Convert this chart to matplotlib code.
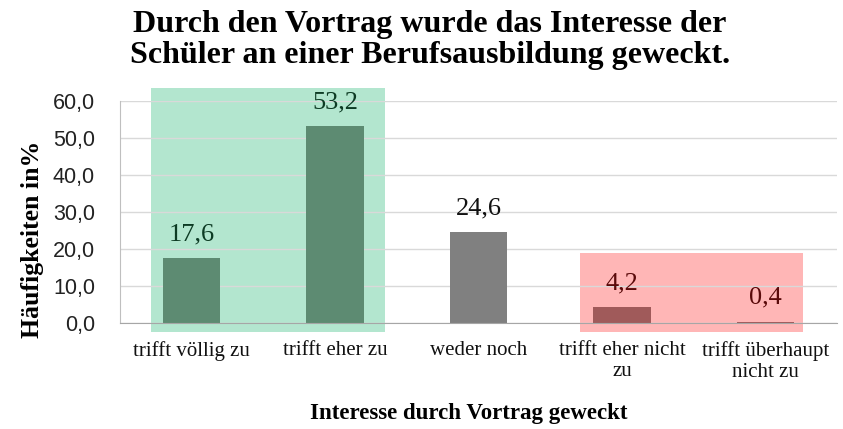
import matplotlib
matplotlib.use("Agg")
import matplotlib.pyplot as plt
from matplotlib.patches import Rectangle

categories = ["trifft völlig zu", "trifft eher zu", "weder noch",
              "trifft eher nicht\nzu", "trifft überhaupt\nnicht zu"]
values = [17.6, 53.2, 24.6, 4.2, 0.4]
value_labels = ["17,6", "53,2", "24,6", "4,2", "0,4"]
yticks = [0, 10, 20, 30, 40, 50, 60]
ytick_labels = ["0,0", "10,0", "20,0", "30,0", "40,0", "50,0", "60,0"]

bar_colors = ["#5d8b72", "#5d8b72", "#808080", "#a05a5a", "#a05a5a"]
label_colors = ["#0d3b24", "#0d3b24", "#111111", "#5a0a0a", "#5a0a0a"]

serif = "Liberation Serif"
sans = "Liberation Sans"

fig = plt.figure(figsize=(8.43, 4.29), dpi=100)
ax = fig.add_axes([120/843, 1-323/429, (837-120)/843, (323-101)/429])

x = list(range(len(categories)))
ax.set_xlim(-0.5, 4.5)
ax.set_ylim(0, 60)

# shaded regions
ax.add_patch(Rectangle((-0.283, -2.4), 1.629, 65.9, facecolor="#b3e6cf",
                       edgecolor="none", zorder=0, clip_on=False))
ax.add_patch(Rectangle((2.71, -2.4), 1.55, 21.3, facecolor="#ffb6b6",
                       edgecolor="none", zorder=0, clip_on=False))

ax.bar(x, values, width=0.4, color=bar_colors, zorder=3)
for xi, v, lab, c in zip(x, values, value_labels, label_colors):
    ax.text(xi, v + 4.8, lab, ha="center", va="baseline", fontsize=19,
            family=serif, color=c, zorder=4)

ax.set_yticks(yticks)
ax.set_yticklabels(ytick_labels, family=sans, fontsize=15.5, color="#222222")
ax.set_xticks(x)
ax.set_xticklabels(categories, family=serif, fontsize=15, color="#111111",
                   linespacing=1.12)
ax.tick_params(axis="both", length=0)
ax.tick_params(axis="y", pad=18)
ax.tick_params(axis="x", pad=13)
ax.yaxis.grid(True, color="#d9d9d9", linewidth=1.0, zorder=1)
ax.set_axisbelow(True)
for s in ["top", "right"]:
    ax.spines[s].set_visible(False)
ax.spines["left"].set_color("#bfbfbf")
ax.spines["bottom"].set_color("#a6a6a6")
ax.spines["left"].set_zorder(2)
ax.spines["bottom"].set_zorder(5)
ax.patch.set_alpha(0)

fig.text(33/843, 1-239/429, "Häufigkeiten in%", rotation=90, ha="center",
         va="center", family=serif, fontweight="bold", fontsize=18.5)

fig.text(430/843, 1-40/429, "Durch den Vortrag wurde das Interesse der\nSchüler an einer Berufsausbildung geweckt.",
         ha="center", va="center", family=serif, fontweight="bold", fontsize=23,
         linespacing=1.05)
fig.text(469/843, 1-413/429, "Interesse durch Vortrag geweckt", ha="center",
         va="center", family=serif, fontweight="bold", fontsize=16.5)

fig.savefig("out.png", dpi=100)
